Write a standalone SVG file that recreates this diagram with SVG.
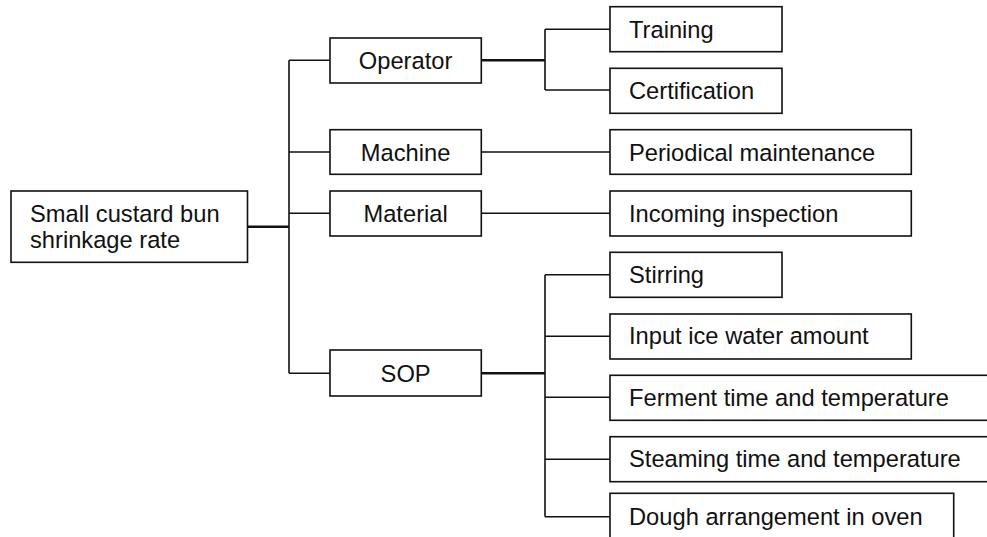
<svg xmlns="http://www.w3.org/2000/svg" width="987" height="537" viewBox="0 0 987 537">
<style>
rect{fill:#fff;stroke:#111;stroke-width:1.6}
text{font-family:"Liberation Sans",Arial,sans-serif;font-size:23.7px;fill:#111}
.m{text-anchor:middle}
#connectors path{fill:none;stroke:#111;stroke-width:1.6}
#connectors .t{stroke-width:2.6}
</style>
<rect x="0" y="0" width="987" height="537" style="fill:#fff;stroke:none"/>
<g id="connectors">
<path class="t" d="M247.5 226.7H289"/>
<path d="M289 60.3V373.3M289 60.3H330M289 152H330M289 213.3H330M289 373.3H330"/>
<path class="t" d="M481.3 60.3H545M481.3 373.3H545"/>
<path d="M545 29.3V90M545 29.3H610M545 90H610"/>
<path d="M481.3 152H610M481.3 213.3H610"/>
<path d="M545 274.7V516.7M545 274.7H610M545 336.3H610M545 397.3H610M545 459.3H610M545 516.7H610"/>
</g>
<g id="root"><rect x="11" y="191" width="236.5" height="71.3"/><text x="30" y="221.5">Small custard bun</text><text x="30" y="248.3">shrinkage rate</text></g>
<g id="operator"><rect x="330" y="38" width="151.3" height="45"/><text class="m" x="405.6" y="68.6">Operator</text></g>
<g id="machine"><rect x="330" y="129.7" width="151.3" height="44.6"/><text class="m" x="405.6" y="160.5">Machine</text></g>
<g id="material"><rect x="330" y="191" width="151.3" height="45"/><text class="m" x="405.6" y="221.8">Material</text></g>
<g id="sop"><rect x="330" y="350" width="151.3" height="46"/><text class="m" x="405.6" y="381.5">SOP</text></g>
<g id="training"><rect x="610" y="6.7" width="172" height="45"/><text x="629" y="38.3">Training</text></g>
<g id="certification"><rect x="610" y="68.3" width="172" height="45"/><text x="629" y="98.5">Certification</text></g>
<g id="periodical"><rect x="610" y="129.7" width="301.3" height="44.6"/><text x="629" y="160.8">Periodical maintenance</text></g>
<g id="incoming"><rect x="610" y="191" width="301.3" height="45"/><text x="629" y="221.5">Incoming inspection</text></g>
<g id="stirring"><rect x="610" y="252.3" width="172" height="45"/><text x="629" y="282.7">Stirring</text></g>
<g id="icewater"><rect x="610" y="314" width="301.3" height="45"/><text x="629" y="343.8">Input ice water amount</text></g>
<g id="ferment"><rect x="610" y="375.3" width="390" height="45"/><text x="629" y="406">Ferment time and temperature</text></g>
<g id="steaming"><rect x="610" y="436.7" width="390" height="45"/><text x="629" y="467">Steaming time and temperature</text></g>
<g id="dough"><rect x="610" y="493.3" width="343.7" height="60"/><text x="629" y="525">Dough arrangement in oven</text></g>
</svg>
